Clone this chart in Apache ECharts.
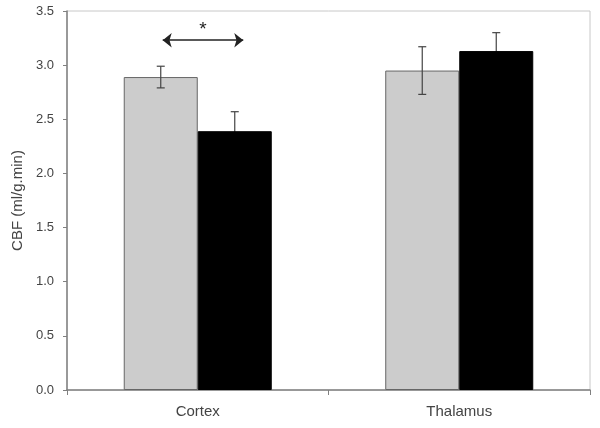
<!DOCTYPE html>
<html><head><meta charset="utf-8">
<script src="https://cdn.jsdelivr.net/npm/echarts@6/dist/echarts.min.js"></script>
<style>html,body{margin:0;padding:0;background:#fff}#c{width:600px;height:428px}</style>
</head><body><div id="c"></div>
<script>
var categories = ['Cortex', 'Thalamus'];
var groupA = [2.89, 2.95];      // light grey bars
var groupB = [2.39, 3.13];      // black bars
var errA = [0.10, 0.22];
var errB = [0.18, 0.17];
var yTicks = {min: 0, max: 3.5, interval: 0.5};
var sigArrow = {from: 0.366, to: 0.674, y: 3.23, label: '*'};

var chart = echarts.init(document.getElementById('c'));
var font = 'Liberation Sans, Arial, sans-serif';

function errSeries(vals, errs, offsetSign, z) {
  return {
    type: 'custom',
    xAxisIndex: 0, yAxisIndex: 0,
    z: z,
    data: vals.map(function (v, i) { return [i, v, errs[i]]; }),
    renderItem: function (params, api) {
      var idx = api.value(0), v = api.value(1), e = api.value(2);
      var size = api.size([1, 0])[0];
      var barW = size * 0.283;
      var c = api.coord([idx, v]);
      var x = c[0] + offsetSign * barW / 2;
      var top = api.coord([idx, v + e])[1];
      var bot = api.coord([idx, v - e])[1];
      var st = {stroke: '#444', lineWidth: 1.2};
      return {type: 'group', children: [
        {type: 'line', shape: {x1: x, y1: top, x2: x, y2: bot}, style: st},
        {type: 'line', shape: {x1: x - 4, y1: top, x2: x + 4, y2: top}, style: st},
        {type: 'line', shape: {x1: x - 4, y1: bot, x2: x + 4, y2: bot}, style: st}
      ]};
    }
  };
}

chart.setOption({
  animation: false,
  backgroundColor: '#fff',
  grid: {left: 67, right: 10, top: 11, bottom: 38, show: true, borderColor: '#c8c8c8', borderWidth: 1},
  xAxis: [{
    type: 'category', data: categories,
    axisLine: {lineStyle: {color: '#808080', width: 1.5}},
    axisTick: {show: true, alignWithLabel: false, length: 5, lineStyle: {color: '#808080'}},
    axisLabel: {color: '#444', fontFamily: font, fontSize: 15, margin: 14},
    splitLine: {show: false}
  }, {
    type: 'value', min: 0, max: 2, show: false
  }],
  yAxis: {
    type: 'value', min: yTicks.min, max: yTicks.max, interval: yTicks.interval,
    name: 'CBF (ml/g.min)', nameLocation: 'middle', nameGap: 40, nameRotate: 90,
    nameTextStyle: {color: '#444', fontFamily: font, fontSize: 15},
    axisLine: {show: true, lineStyle: {color: '#808080', width: 1.5}},
    axisTick: {show: true, length: 4, lineStyle: {color: '#808080'}},
    axisLabel: {color: '#444', fontFamily: font, fontSize: 13, margin: 13,
      formatter: function (v) { return v.toFixed(1); }},
    splitLine: {show: false}
  },
  series: [
    {type: 'bar', data: groupA, barWidth: '28.3%', barGap: '0%', z: 2,
     itemStyle: {color: '#cccccc', borderColor: '#666', borderWidth: 1}},
    {type: 'bar', data: groupB, barWidth: '28.3%', barGap: '0%', z: 2,
     itemStyle: {color: '#000000', borderColor: '#000', borderWidth: 1}},
    errSeries(groupA, errA, -1, 5),
    errSeries(groupB, errB, 1, 1),
    {
      type: 'line', xAxisIndex: 1, yAxisIndex: 0, data: [], silent: true,
      markLine: {
        silent: true, symbol: ['arrow', 'arrow'], symbolSize: [11, 9],
        lineStyle: {color: '#222', width: 1.5, type: 'solid'},
        label: {show: true, position: 'middle', formatter: sigArrow.label, color: '#222',
          fontSize: 19, fontFamily: font, distance: 1},
        data: [[{coord: [sigArrow.from, sigArrow.y]}, {coord: [sigArrow.to, sigArrow.y]}]]
      }
    }
  ]
});
</script></body></html>
